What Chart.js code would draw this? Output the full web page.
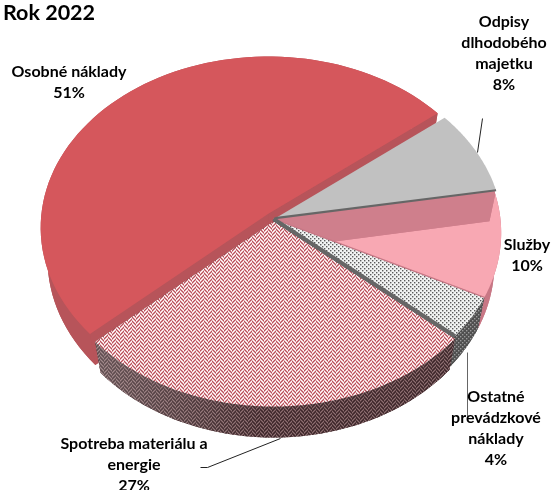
<!DOCTYPE html>
<html><head><meta charset="utf-8">
<style>html,body{margin:0;padding:0;background:#fff}#w{width:553px;height:490px}</style>
<script src="https://cdn.jsdelivr.net/npm/chart.js@4"></script></head>
<body><div id="w"><canvas id="c" width="553" height="490"></canvas></div>
<script>
const titleText = "Rok 2022";
const categories = ["Osobné náklady","Odpisy dlhodobého majetku","Služby","Ostatné prevádzkové náklady","Spotreba materiálu a energie"];
const values = [51,8,10,4,27];
const labelNameLines = [["Osobné náklady"],["Odpisy","dlhodobého","majetku"],["Služby"],["Ostatné","prevádzkové","náklady"],["Spotreba materiálu a","energie"]];
const labelAnchors = [[69,72],[504,22],[527,245],[496,397],[134,444]];
const leaderLines = [[[482,118],[477,152]],[[200,467],[207,467],[280,438]],[[467,352],[467,417]]];
const leaderColors = ["#222","#222","#666"];
const explode = [8,2,0,0,3];
const FONT = 'bold 16px Lato, "Open Sans", sans-serif';

function tile(size,bg,fn){const t=document.createElement('canvas');t.width=t.height=size;const g=t.getContext('2d');g.fillStyle=bg;g.fillRect(0,0,size,size);fn(g);return g.createPattern(t,'repeat');}
function herringbone(c0,c1,c2,c3){return tile(8,c1,g=>{
  for(let x=0;x<8;x++)for(let y=0;y<8;y++){
    const v=(x<4?x+y:7-x+y+2)%4;
    g.fillStyle=[c0,c1,c2,c3][v];g.fillRect(x,y,1,1);
  }
});}
function dots(bg,fg){return tile(4,bg,g=>{g.fillStyle=fg;g.fillRect(0,0,1.4,1.4);g.fillRect(2,2,1.4,1.4);});}

const faceColors = ["#d5575c","#c1c1c1","#f8a8b3",dots("#f2f4f3","#5a5a5a"),herringbone("#ffffff","#eebcc0","#b5505b","#dc9aa0")];
const wallColors = ["#b7545a","#c1c1c1","#c87785",dots("#4f4f4f","#9a9a9a"),herringbone("#8a6f71","#644649","#3a2629","#553a3e")];
const wedgeColor = "#cf7f8c";
const edgeDark = "#666666";

const VP = {sx:228/191, A:170.8/191, k:0.0814, dy:31, s:0.97};
function proj(a,theta,rf,off,bottom){
  const mid=(a.startAngle+a.endAngle)/2, R=a.outerRadius;
  const d=1-VP.k*Math.sin(theta)*rf;
  const s=bottom?VP.s:1;
  return [a.x+1+Math.cos(mid)*off+s*R*VP.sx*rf*Math.cos(theta)/d,
          a.y+Math.sin(mid)*off*0.85+R*VP.A*rf*Math.sin(theta)/d+(bottom?VP.dy:0)];
}
function arcPts(a,off,bottom,rev){const n=80,p=[];for(let i=0;i<=n;i++){const t=a.startAngle+(a.endAngle-a.startAngle)*i/n;p.push(proj(a,t,1,off,bottom));}return rev?p.reverse():p;}
function sector(ctx,a,off,bottom){ctx.beginPath();const c=proj(a,0,0,off,bottom);ctx.moveTo(c[0],c[1]);arcPts(a,off,bottom).forEach(q=>ctx.lineTo(q[0],q[1]));ctx.closePath();}
function extrude(ctx,a,off,col){
  ctx.fillStyle=col;
  sector(ctx,a,off,true);ctx.fill();
  ctx.beginPath();arcPts(a,off,false).forEach((q,i)=>i?ctx.lineTo(q[0],q[1]):ctx.moveTo(q[0],q[1]));
  arcPts(a,off,true,true).forEach(q=>ctx.lineTo(q[0],q[1]));ctx.closePath();ctx.fill();
  [a.startAngle,a.endAngle].forEach(t=>{
    const c=proj(a,0,0,off,false),c2=proj(a,0,0,off,true),o=proj(a,t,1,off,false),o2=proj(a,t,1,off,true);
    ctx.beginPath();ctx.moveTo(c[0],c[1]);ctx.lineTo(o[0],o[1]);ctx.lineTo(o2[0],o2[1]);ctx.lineTo(c2[0],c2[1]);ctx.closePath();ctx.fill();
  });
}
function radial(ctx,a,t,off,col,w){const c=proj(a,0,0,off,false),o=proj(a,t,1,off,false);ctx.strokeStyle=col;ctx.lineWidth=w;ctx.beginPath();ctx.moveTo(c[0],c[1]);ctx.lineTo(o[0],o[1]);ctx.stroke();}

const pie3d={id:'pie3d',
  beforeDatasetDraw(chart,args){
    const ctx=chart.ctx,arcs=chart.getDatasetMeta(args.index).data;
    const [red,grey,pink,dot,hatch]=arcs;
    ctx.save();
    extrude(ctx,red,explode[0],wallColors[0]);
    ctx.fillStyle=faceColors[0];sector(ctx,red,explode[0],false);ctx.fill();
    extrude(ctx,pink,explode[2],wallColors[2]);
    extrude(ctx,dot,explode[3],wallColors[3]);
    extrude(ctx,hatch,explode[4],wallColors[4]);
    const sheen=ctx.createLinearGradient(95,0,260,0);
    sheen.addColorStop(0,"rgba(255,255,255,0.1)");sheen.addColorStop(1,"rgba(255,255,255,0)");
    extrude(ctx,hatch,explode[4],sheen);
    ctx.fillStyle=faceColors[2];sector(ctx,pink,explode[2],false);ctx.fill();
    ctx.save();sector(ctx,pink,explode[2],false);ctx.clip();
    extrude(ctx,grey,explode[1],wedgeColor);ctx.restore();
    ctx.fillStyle=faceColors[1];sector(ctx,grey,explode[1],false);ctx.fill();
    radial(ctx,grey,grey.endAngle,explode[1],edgeDark,2.2);
    ctx.fillStyle=faceColors[3];sector(ctx,dot,explode[3],false);ctx.fill();
    radial(ctx,dot,dot.startAngle,explode[3],"#c87785",1.2);
    ctx.fillStyle=faceColors[4];sector(ctx,hatch,explode[4],false);ctx.fill();
    radial(ctx,dot,dot.endAngle,explode[3],edgeDark,4);
    ctx.restore();
    return false;
  },
  afterDraw(chart){
    const ctx=chart.ctx;ctx.save();
    leaderLines.forEach((l,i)=>{ctx.strokeStyle=leaderColors[i];ctx.lineWidth=1;ctx.beginPath();l.forEach((p,j)=>j?ctx.lineTo(p[0]+.5,p[1]+.5):ctx.moveTo(p[0]+.5,p[1]+.5));ctx.stroke();});
    ctx.font=FONT;ctx.fillStyle="#000";ctx.textAlign="center";ctx.textBaseline="middle";
    labelNameLines.forEach((lines,i)=>{
      const all=lines.concat([values[i]+"%"]);
      all.forEach((t,j)=>ctx.fillText(t,labelAnchors[i][0],labelAnchors[i][1]+j*21));
    });
    ctx.restore();
  }
};
new Chart(document.getElementById('c'),{
  type:'pie',
  data:{labels:categories,datasets:[{data:values,backgroundColor:faceColors,borderWidth:0}]},
  options:{responsive:false,animation:false,events:[],rotation:228,
    layout:{padding:{left:3,right:11,top:0,bottom:81}},
    plugins:{legend:{display:false},tooltip:{enabled:false},
      title:{display:true,text:titleText,align:'start',color:'#000',font:{family:'Lato, "Open Sans", sans-serif',size:21.5,weight:'bold'},padding:{top:0,bottom:3}}}},
  plugins:[pie3d]
});
</script></body></html>
